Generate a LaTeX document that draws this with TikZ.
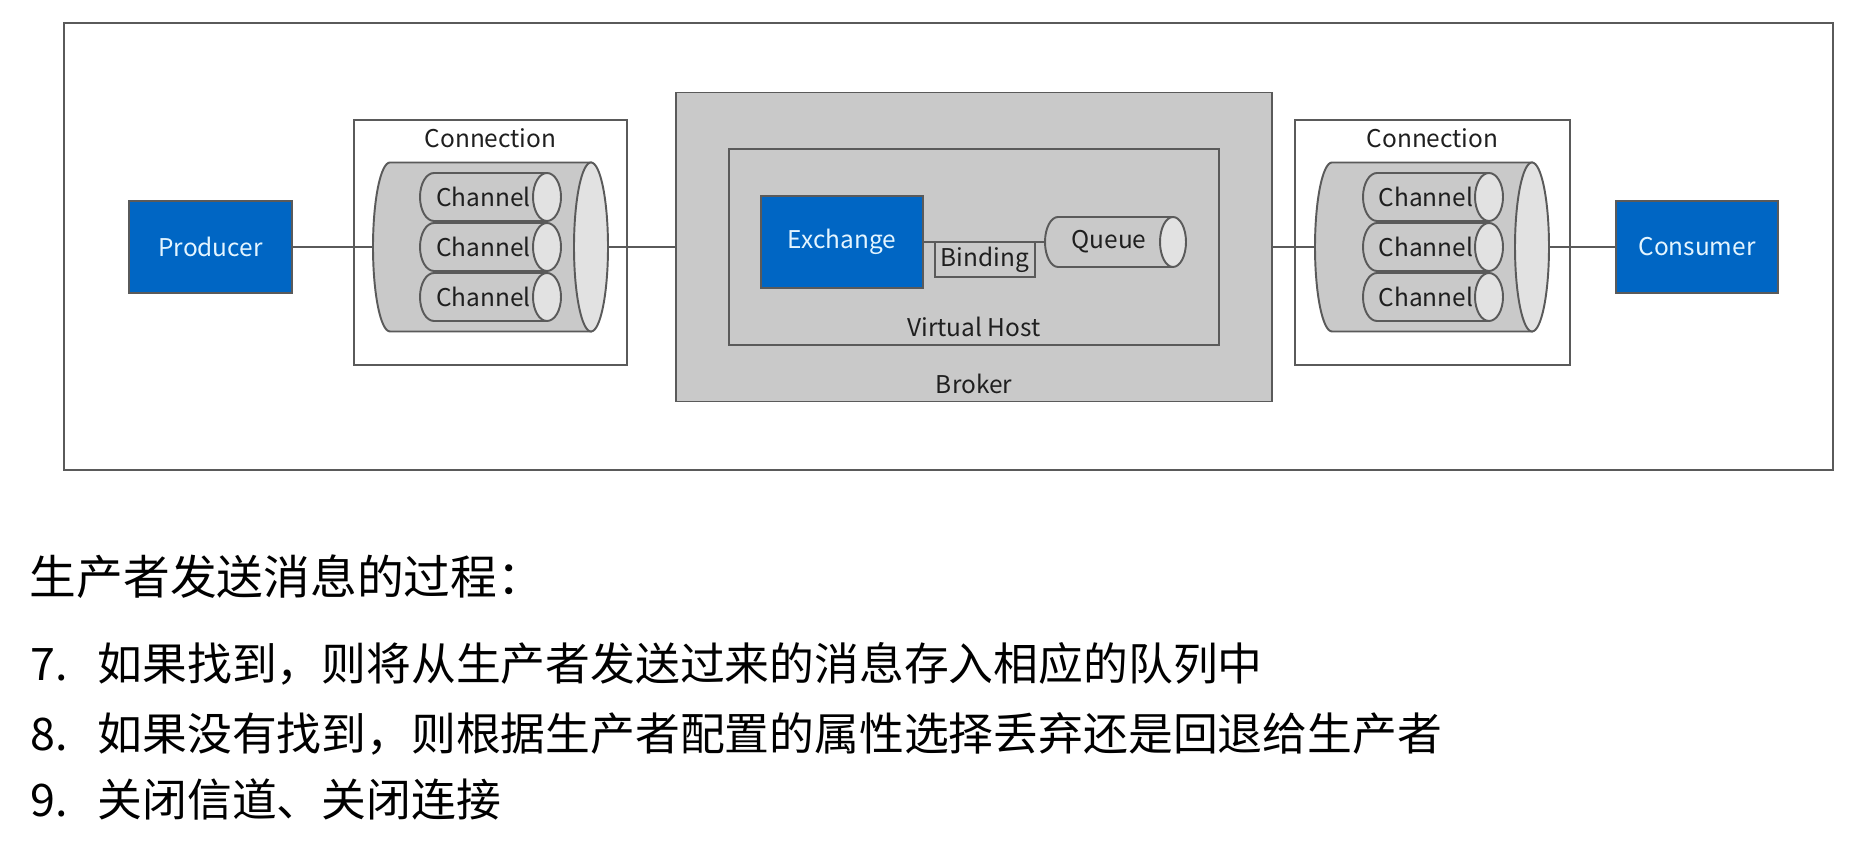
\documentclass[tikz,border=0pt]{standalone}
\usepackage{fontspec}
\setmainfont{Noto Sans CJK SC}

\definecolor{boxblue}{HTML}{0066C4}
\definecolor{edgegray}{HTML}{5A5A5A}
\definecolor{bodygray}{HTML}{C9C9C9}
\definecolor{capgray}{HTML}{E2E2E2}
\definecolor{labelblue}{HTML}{E4F5FF}

\tikzset{
  frame/.style={draw=edgegray, line width=1.1pt},
  lbl/.style={font=\fontsize{13.9pt}{16pt}\selectfont, text=black!88},
  actor/.style={frame, lbl, fill=boxblue, text=labelblue, inner sep=0pt,
    minimum width=3.26cm, minimum height=1.84cm},
  link/.style={draw=edgegray, line width=1.1pt},
  note/.style={anchor=base west, inner sep=0pt, text=black},
}

% lying cylinder: name, x, y, width, height, cap x-radius, text
\newcommand{\tubenode}[7]{%
  \filldraw[frame, fill=bodygray] ({#2-#4/2+#6},{#3+#5/2})
    arc[start angle=90, end angle=270, x radius=#6, y radius=#5/2]
    -- ({#2+#4/2-#6},{#3-#5/2}) -- ({#2+#4/2-#6},{#3+#5/2}) -- cycle;
  \filldraw[frame, fill=capgray] ({#2+#4/2-#6},#3) ellipse[x radius=#6, y radius=#5/2];
  \node[lbl, inner sep=0pt, minimum width=#4cm, minimum height=#5cm] (#1) at (#2,#3) {\kern-#6cm#7};
}

\begin{document}
\begin{tikzpicture}
\useasboundingbox (0,0) rectangle (37,16.86);
\draw[draw=edgegray, line width=1.1pt] (1.28,7.46) rectangle (36.66,16.40);

% left side
\node[actor] (producer) at (4.21,11.92) {Producer};
\node[frame, fill=white, minimum width=5.46cm, minimum height=4.90cm] (connL) at (9.81,12.01) {};
\node[lbl] (connLlbl) at (9.81,14.10) {Connection};
\tubenode{cylL}{9.81}{11.92}{4.70}{3.38}{0.34}{}
\foreach \i/\y in {1/12.92,2/11.92,3/10.92}
  \tubenode{chL\i}{9.81}{\y}{2.82}{0.96}{0.28}{Channel};

% broker
\node[frame, fill=bodygray, minimum width=11.92cm, minimum height=6.18cm] (broker) at (19.48,11.92) {};
\node[lbl] (brokerlbl) at (19.48,9.18) {Broker};
\node[frame, minimum width=9.80cm, minimum height=3.92cm] (vhost) at (19.48,11.92) {};
\node[lbl] (vhostlbl) at (19.48,10.32) {Virtual Host};
\node[actor, minimum width=3.24cm] (exch) at (16.84,12.02) {Exchange};
\tubenode{queue}{22.31}{12.02}{2.82}{1.00}{0.26}{Queue}
\node[frame, lbl, minimum width=2.00cm, minimum height=0.70cm, inner sep=0pt] (binding) at (19.70,11.67) {Binding};

% right side
\node[frame, fill=white, minimum width=5.50cm, minimum height=4.90cm] (connR) at (28.65,12.01) {};
\node[lbl] (connRlbl) at (28.65,14.10) {Connection};
\tubenode{cylR}{28.64}{11.92}{4.68}{3.38}{0.34}{}
\foreach \i/\y in {1/12.92,2/11.92,3/10.92}
  \tubenode{chR\i}{28.66}{\y}{2.80}{0.96}{0.28}{Channel};
\node[actor, minimum width=3.24cm] (consumer) at (33.94,11.92) {Consumer};

% links
\draw[link] (producer.east) -- (producer.east -| cylL.west);
\draw[link] (cylL.east) -- (cylL.east -| broker.west);
\draw[link] (exch.east) -- (exch.east -| queue.west);
\draw[link] (broker.east) -- (broker.east -| cylR.west);
\draw[link] (cylR.east) -- (cylR.east -| consumer.west);

% text below
\node[note, font=\fontsize{26.6pt}{30pt}\selectfont] (title) at (0.59,4.96) {生产者发送消息的过程：};
\node[note, font=\fontsize{25.5pt}{30pt}\selectfont] (step7) at (0.60,3.24) {\makebox[1.5em][l]{7.}如果找到，则将从生产者发送过来的消息存入相应的队列中};
\node[note, font=\fontsize{25.5pt}{30pt}\selectfont] (step8) at (0.60,1.84) {\makebox[1.5em][l]{8.}如果没有找到，则根据生产者配置的属性选择丢弃还是回退给生产者};
\node[note, font=\fontsize{25.5pt}{30pt}\selectfont] (step9) at (0.60,0.52) {\makebox[1.5em][l]{9.}关闭信道、关闭连接};
\end{tikzpicture}
\end{document}
